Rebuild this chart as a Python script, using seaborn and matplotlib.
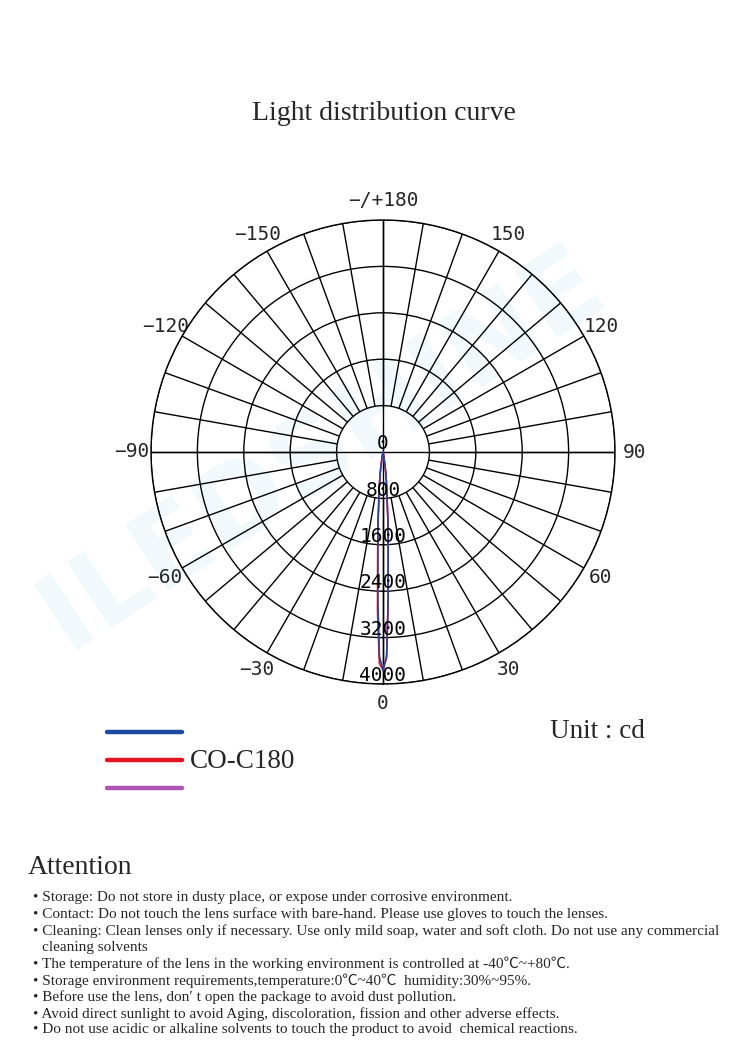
import matplotlib
matplotlib.use('Agg')
import matplotlib.pyplot as plt
import seaborn as sns
import numpy as np
from matplotlib.lines import Line2D

# --- data ---
angles_deg = [-15, -12, -10, -8, -7, -6, -5, -4, -3, -2, -1, 0,
              1, 2, 3, 4, 5, 6, 7, 8, 10, 12, 15]
blue_cd = [0, 30, 100, 300, 440, 620, 820, 1230, 1710, 2550, 3530, 3760,
           3530, 2550, 1710, 1230, 820, 620, 440, 300, 100, 30, 0]
red_cd = [0, 30, 100, 300, 440, 630, 840, 1260, 1780, 2750, 3650, 3760,
          3530, 2550, 1710, 1230, 820, 620, 440, 300, 100, 30, 0]
purple_cd = [0, 30, 100, 300, 440, 620, 820, 1230, 1710, 2560, 3540, 3760,
             3540, 2560, 1710, 1230, 820, 620, 440, 300, 100, 30, 0]

ring_values = [800, 1600, 2400, 3200, 4000]
radial_labels = [0, 800, 1600, 2400, 3200, 4000]
spoke_angles = np.arange(0, 360, 10)
tick_angles = [0, 30, 60, 90, 120, 150, 180, 210, 240, 270, 300, 330]
tick_labels = ['0', '30', '60', '90', '120', '150', '\u2212/+180',
               '\u2212150', '\u2212120', '\u221290', '\u221260', '\u221230']

notes = [
    ('\u2022 Storage: Do not store in dusty place, or expose under corrosive environment.', 0),
    ('\u2022 Contact: Do not touch the lens surface with bare-hand. Please use gloves to touch the lenses.', 0),
    ('\u2022 Cleaning: Clean lenses only if necessary. Use only mild soap, water and soft cloth. Do not use any commercial', 0),
    ('cleaning solvents', 1),
    ('\u2022 The temperature of the lens in the working environment is controlled at -40\u2103~+80\u2103.', 0),
    ('\u2022 Storage environment requirements,temperature:0\u2103~40\u2103  humidity:30%~95%.', 0),
    ('\u2022 Before use the lens, don\u2032 t open the package to avoid dust pollution.', 0),
    ('\u2022 Avoid direct sunlight to avoid Aging, discoloration, fission and other adverse effects.', 0),
    ('\u2022 Do not use acidic or alkaline solvents to touch the product to avoid  chemical reactions.', 0),
]
note_y_px = [898, 914, 931, 947, 964, 981, 997, 1014, 1030]

sns.set_style('white')
serif = ['Liberation Serif', 'Noto Sans CJK SC', 'DejaVu Sans']
mono = 'DejaVu Sans Mono'

W, H = 750, 1043
fig = plt.figure(figsize=(W / 100, H / 100), dpi=100)
fig.patch.set_facecolor('white')

# very faint watermark behind everything
fig.text(0.43, 0.57, 'ILEDSHINE', rotation=33, fontsize=78, fontweight='bold',
         color='#f2f9fd', ha='center', va='center', zorder=-1)

# polar chart: centre (383, 452), radius 232 px
cx, cy, R = 383, 452, 232
ax = fig.add_axes([(cx - R) / W, 1 - (cy + R) / H, 2 * R / W, 2 * R / H],
                  projection='polar')
ax.patch.set_alpha(0)
ax.set_theta_zero_location('S')
ax.set_theta_direction(1)
ax.set_ylim(0, 4000)

ax.set_yticks(ring_values)
ax.set_yticklabels([])
ax.yaxis.grid(True, color='black', lw=1.0)
ax.xaxis.grid(False)
ax.spines['polar'].set_color('black')
ax.spines['polar'].set_linewidth(1.0)

ax.vlines(np.deg2rad(spoke_angles), 800, 4000, colors='black', lw=1.0)
ax.vlines(np.deg2rad([0, 90, 180, 270]), 0, 4000, colors='black', lw=1.0)

ax.set_xticks(np.deg2rad(tick_angles))
ax.set_xticklabels(tick_labels, fontfamily=mono, fontsize=14)
ax.tick_params(axis='x', pad=7, length=0)

th = np.deg2rad(angles_deg)
ax.plot(th, purple_cd, color='#b04fb0', lw=1.1)
ax.plot(th, red_cd, color='#d8202a', lw=1.1)
ax.plot(th, blue_cd, color='#2b3f9c', lw=1.1)

for v in radial_labels:
    ax.annotate(str(v), xy=(0, v), xytext=(0, 6), textcoords='offset points',
                ha='center', va='center', fontfamily=mono, fontsize=14,
                color='black', zorder=5)

# title
fig.text(384 / W, 1 - 113 / H, 'Light distribution curve', family=serif,
         fontsize=20, ha='center', va='center')

# legend
for y_px, col in zip([732, 760, 788], ['#1d4aa0', '#e3151f', '#b055b5']):
    fig.add_artist(Line2D([107 / W, 182 / W], [1 - y_px / H, 1 - y_px / H],
                          color=col, lw=3.2, solid_capstyle='round'))
fig.text(190 / W, 1 - 762 / H, 'CO-C180', family=serif, fontsize=19.5,
         ha='left', va='center')
fig.text(550 / W, 1 - 731 / H, 'Unit : cd', family=serif, fontsize=19.5,
         ha='left', va='center')

# attention notes
fig.text(28 / W, 1 - 867 / H, 'Attention', family=serif, fontsize=20,
         ha='left', va='center')
for (line, indent), y_px in zip(notes, note_y_px):
    x_px = 42 if indent else 33
    fig.text(x_px / W, 1 - y_px / H, line, family=serif, fontsize=11,
             ha='left', va='center')

fig.savefig('out.png', dpi=100)
